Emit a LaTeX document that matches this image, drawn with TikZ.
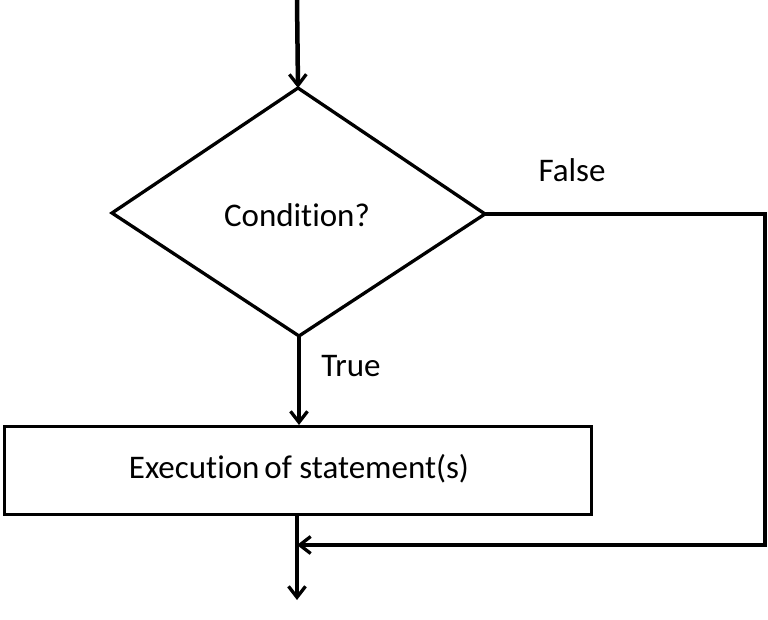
\documentclass[tikz,border=0pt]{standalone}
\usepackage{fontspec}
\setmainfont{Carlito}[Ligatures=NoCommon]
\usetikzlibrary{arrows.meta,shapes.geometric}
\begin{document}
\begin{tikzpicture}[x=1pt,y=-1pt,
  line/.style={line width=3.3pt},
  arr/.style={line width=3.3pt,-{Straight Barb[length=11pt,width=17pt,line width=3.3pt]}},
  lbl/.style={font=\fontsize{33}{38}\selectfont, inner sep=0pt}]
\useasboundingbox (0,0) rectangle (768,620);
\coordinate (top) at (297,0);
\coordinate (dT) at (298,88);
\coordinate (dL) at (112,213);
\coordinate (dR) at (485,214);
\coordinate (dB) at (299,336);
\draw[line, line join=miter] (dT) -- (dR) -- (dB) -- (dL) -- cycle;
\node[lbl] (cond) at (297,215) {Condition?};
\node[draw, line width=3.3pt, minimum width=587pt, minimum height=88pt, inner sep=0pt, anchor=north west] (exec) at (3,425) {};
\node[lbl] (exectext) at (299,469) {Execution\hspace{0.15em}of statement(s)};
\node[lbl] (false) at (572,170) {False};
\node[lbl] (true) at (351,366) {True};
\coordinate (c1) at (765,214);
\coordinate (c2) at (765,545);
\coordinate (join) at (297,545);
\coordinate (bot) at (297,600);
\draw[arr, line width=4.5pt] (top) -- (dT);
\draw[arr] (dB) -- (dB |- exec.north);
\draw[line, line join=miter] (dR) -- (c1) -- (c2) -- ++(-200,0);
\draw[arr] (c2) -- (join);
\draw[arr] (297,513) -- (bot);
\end{tikzpicture}
\end{document}
